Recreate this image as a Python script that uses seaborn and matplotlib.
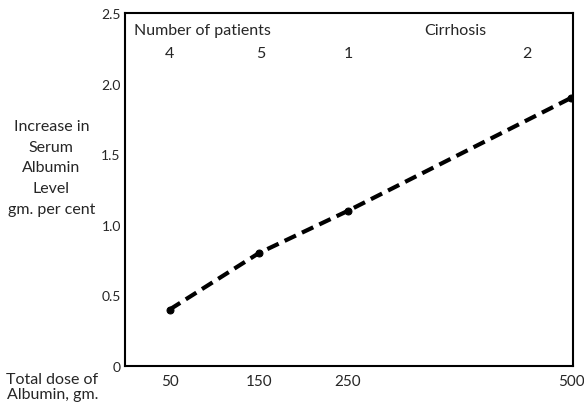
import numpy as np
import pandas as pd
import matplotlib
matplotlib.use("Agg")
import matplotlib.pyplot as plt
import seaborn as sns

# data
dose = [50, 150, 250, 500]
increase = [0.4, 0.8, 1.1, 1.9]
patients = ["4", "5", "1", "2"]
patient_x = [50, 152, 250, 450]
y_ticks = [0, 0.5, 1.0, 1.5, 2.0, 2.5]
y_labels = ["0", "0.5", "1.0", "1.5", "2.0", "2.5"]

sns.set_style("white")
plt.rcParams['font.family'] = ['Lato', 'DejaVu Sans']

df = pd.DataFrame({"dose": dose, "increase": increase})

fig = plt.figure(figsize=(5.84, 4.06), dpi=100)
ax = fig.add_axes([0.214, 0.096, 0.767, 0.869])

sns.lineplot(data=df, x="dose", y="increase", ax=ax, color="black",
             linewidth=3, linestyle=(0, (3, 1.6)), marker="o", markersize=5,
             markeredgecolor="black")

ax.set_xlim(0, 502)
ax.set_ylim(0, 2.5)
ax.set_xticks(dose)
ax.set_xticklabels([str(d) for d in dose], fontsize=11)
ax.set_xticks([100, 200, 300, 400], minor=True)
ax.set_yticks(y_ticks)
ax.set_yticklabels(y_labels, fontsize=10)
ax.tick_params(axis="x", which="major", direction="in", length=3, width=1, pad=6)
ax.tick_params(axis="y", which="major", direction="in", length=3, width=1, pad=3)
ax.tick_params(axis="x", which="minor", direction="in", length=2, width=1)
ax.set_xlabel("")
ax.set_ylabel("")
for s in ax.spines.values():
    s.set_linewidth(1.5)
    s.set_color("black")

# header annotations
ax.text(10, 2.38, "Number of patients", fontsize=11.5, ha="left", va="center")
ax.text(370, 2.38, "Cirrhosis", fontsize=11.5, ha="center", va="center")
for px, p in zip(patient_x, patients):
    ax.text(px, 2.22, p, fontsize=11.5, ha="center", va="center")

fig.text(0.088, 0.585, "Increase in\nSerum\nAlbumin\nLevel\ngm. per cent",
         fontsize=11.5, ha="center", va="center", linespacing=1.6)
fig.text(0.09, 0.045, "Total dose of\nAlbumin, gm.", fontsize=11.5,
         ha="center", va="center", linespacing=1.1)

plt.savefig("out.png", dpi=100)
